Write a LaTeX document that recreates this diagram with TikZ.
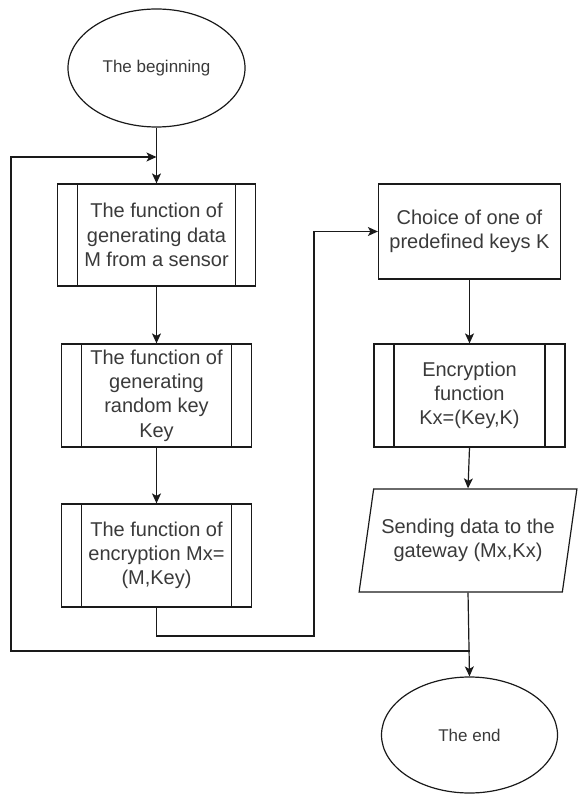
\documentclass[tikz,border=0pt]{standalone}
\usepackage{fontspec}
\setmainfont{Liberation Sans}
\usetikzlibrary{shapes.geometric,arrows.meta}

\definecolor{linecol}{HTML}{1A1A1A}
\definecolor{textcol}{HTML}{3A3A3A}

\tikzset{
  base/.style={draw=linecol, line width=1.2pt, text=textcol, inner sep=0pt,
    align=center, font=\fontsize{20}{24.3}\selectfont},
  terminal/.style={base, ellipse, font=\fontsize{17}{20}\selectfont},
  process/.style={base, rectangle},
  subproc/.style={base, rectangle, path picture={
    \draw[linecol, line width=1.2pt]
      ([xshift=20pt]path picture bounding box.north west) --
      ([xshift=20pt]path picture bounding box.south west);
    \draw[linecol, line width=1.2pt]
      ([xshift=-20pt]path picture bounding box.north east) --
      ([xshift=-20pt]path picture bounding box.south east);}},
  io/.style={base, trapezium, trapezium left angle=72.7,
    trapezium right angle=107.3, trapezium stretches=true},
  flow/.style={draw=linecol, line width=1.2pt,
    -{Stealth[length=10pt,width=9pt,inset=2.5pt]}},
  link/.style={draw=linecol, line width=1.2pt}
}

\begin{document}
\begin{tikzpicture}[x=1pt, y=-1pt]
\useasboundingbox (0,0) rectangle (578,794);

% left column
\node[terminal, minimum width=177pt, minimum height=118pt] (start) at (156.5,68) {The beginning};
\node[subproc, minimum width=198pt, minimum height=102pt] (f1) at (156.5,235)
  {The function of\\generating data\\M from a sensor};
\node[subproc, minimum width=190pt, minimum height=103pt] (f2) at (156.5,395.5)
  {The function of\\generating\\random key\\Key};
\node[subproc, minimum width=190pt, minimum height=103pt] (f3) at (156.5,555.5)
  {The function of\\encryption Mx=\\(M,Key)};

% right column
\node[process, minimum width=182pt, minimum height=95pt] (k1) at (469.5,231.5)
  {Choice of one of\\predefined keys K};
\node[subproc, minimum width=191pt, minimum height=103pt] (k2) at (469.5,395.5)
  {Encryption\\function\\Kx=(Key,K)};
\node[io, minimum width=218pt, minimum height=103pt] (send) at (468,540.5)
  {Sending data to the\\gateway (Mx,Kx)};
\node[terminal, minimum width=176pt, minimum height=116pt] (end) at (469.5,735) {The end};

% junction points of the routed connectors
\coordinate (loopin) at (156.5,157);
\coordinate (bend) at (314,636);
\coordinate (join) at (469.5,651);
\coordinate (leftrail) at (11,651);

% straight flow
\draw[flow] (start.south) -- (f1.north);
\draw[flow] (f1.south) -- (f2.north);
\draw[flow] (f2.south) -- (f3.north);
\draw[flow] (k1.south) -- (k2.north);
\draw[flow] (k2.south) -- (send.north);
\draw[flow] (send.south) -- (end.north);

% from the left column over to the right column
\draw[flow] (f3.south) |- (bend) |- (k1.west);

% loop back to the start of the cycle
\draw[flow] (join) -- (leftrail) |- (loopin);
\end{tikzpicture}
\end{document}
